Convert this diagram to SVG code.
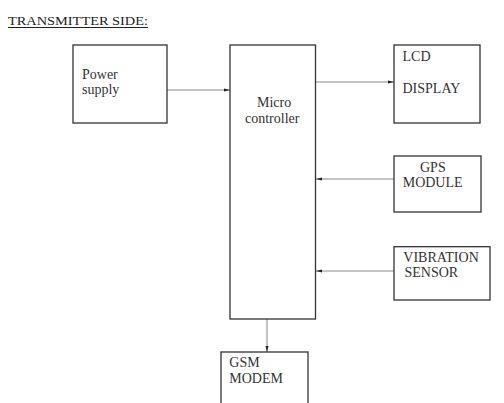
<svg xmlns="http://www.w3.org/2000/svg" width="504" height="403" viewBox="0 0 504 403">
<style>
.box{fill:#fff;stroke:#333;stroke-width:1.3}
.t{font-family:"Liberation Serif","Times New Roman",serif;font-size:14px;fill:#333}
.c{stroke:#888;stroke-width:1;fill:none;marker-end:url(#ah)}
</style>
<defs>
<marker id="ah" viewBox="0 0 6 4" refX="6" refY="2" markerWidth="6" markerHeight="4" markerUnits="userSpaceOnUse" orient="auto">
<path d="M0,0.5 L6,2 L0,3.5 z" fill="#222"/>
</marker>
</defs>
<rect width="504" height="403" fill="#fff"/>
<g id="title">
<text x="8" y="25" font-family="Liberation Serif, serif" font-size="13" fill="#222" textLength="140" lengthAdjust="spacingAndGlyphs">TRANSMITTER SIDE:</text>
<line x1="8" y1="27.5" x2="148" y2="27.5" stroke="#222" stroke-width="1"/>
</g>
<g id="connectors">
<line class="c" x1="167" y1="90" x2="230" y2="90"/>
<line class="c" x1="315" y1="82" x2="394" y2="82"/>
<line class="c" x1="394" y1="179" x2="316" y2="179"/>
<line class="c" x1="394" y1="271" x2="316" y2="271"/>
<line class="c" x1="267" y1="319" x2="267" y2="352"/>
</g>
<g id="power">
<rect class="box" x="73" y="45" width="94" height="78"/>
<text class="t" x="82" y="79">Power</text>
<text class="t" x="82" y="94">supply</text>
</g>
<g id="micro">
<rect class="box" x="230" y="45" width="85.5" height="274"/>
<text class="t" x="257" y="107">Micro</text>
<text class="t" x="245" y="123">controller</text>
</g>
<g id="lcd">
<rect class="box" x="394" y="45" width="86" height="78"/>
<text class="t" x="402.5" y="61">LCD</text>
<text class="t" x="402.5" y="93">DISPLAY</text>
</g>
<g id="gps">
<rect class="box" x="394" y="156" width="87" height="56"/>
<text class="t" x="420" y="172.3">GPS</text>
<text class="t" x="402.7" y="187.3">MODULE</text>
</g>
<g id="vibration">
<rect class="box" x="394" y="246.7" width="96" height="53.3"/>
<text class="t" x="403.3" y="262.3">VIBRATION</text>
<text class="t" x="404.5" y="277.3">SENSOR</text>
</g>
<g id="gsm">
<rect class="box" x="221" y="352" width="87" height="60"/>
<text class="t" x="229.3" y="367.3">GSM</text>
<text class="t" x="229.3" y="383.3">MODEM</text>
</g>
</svg>
